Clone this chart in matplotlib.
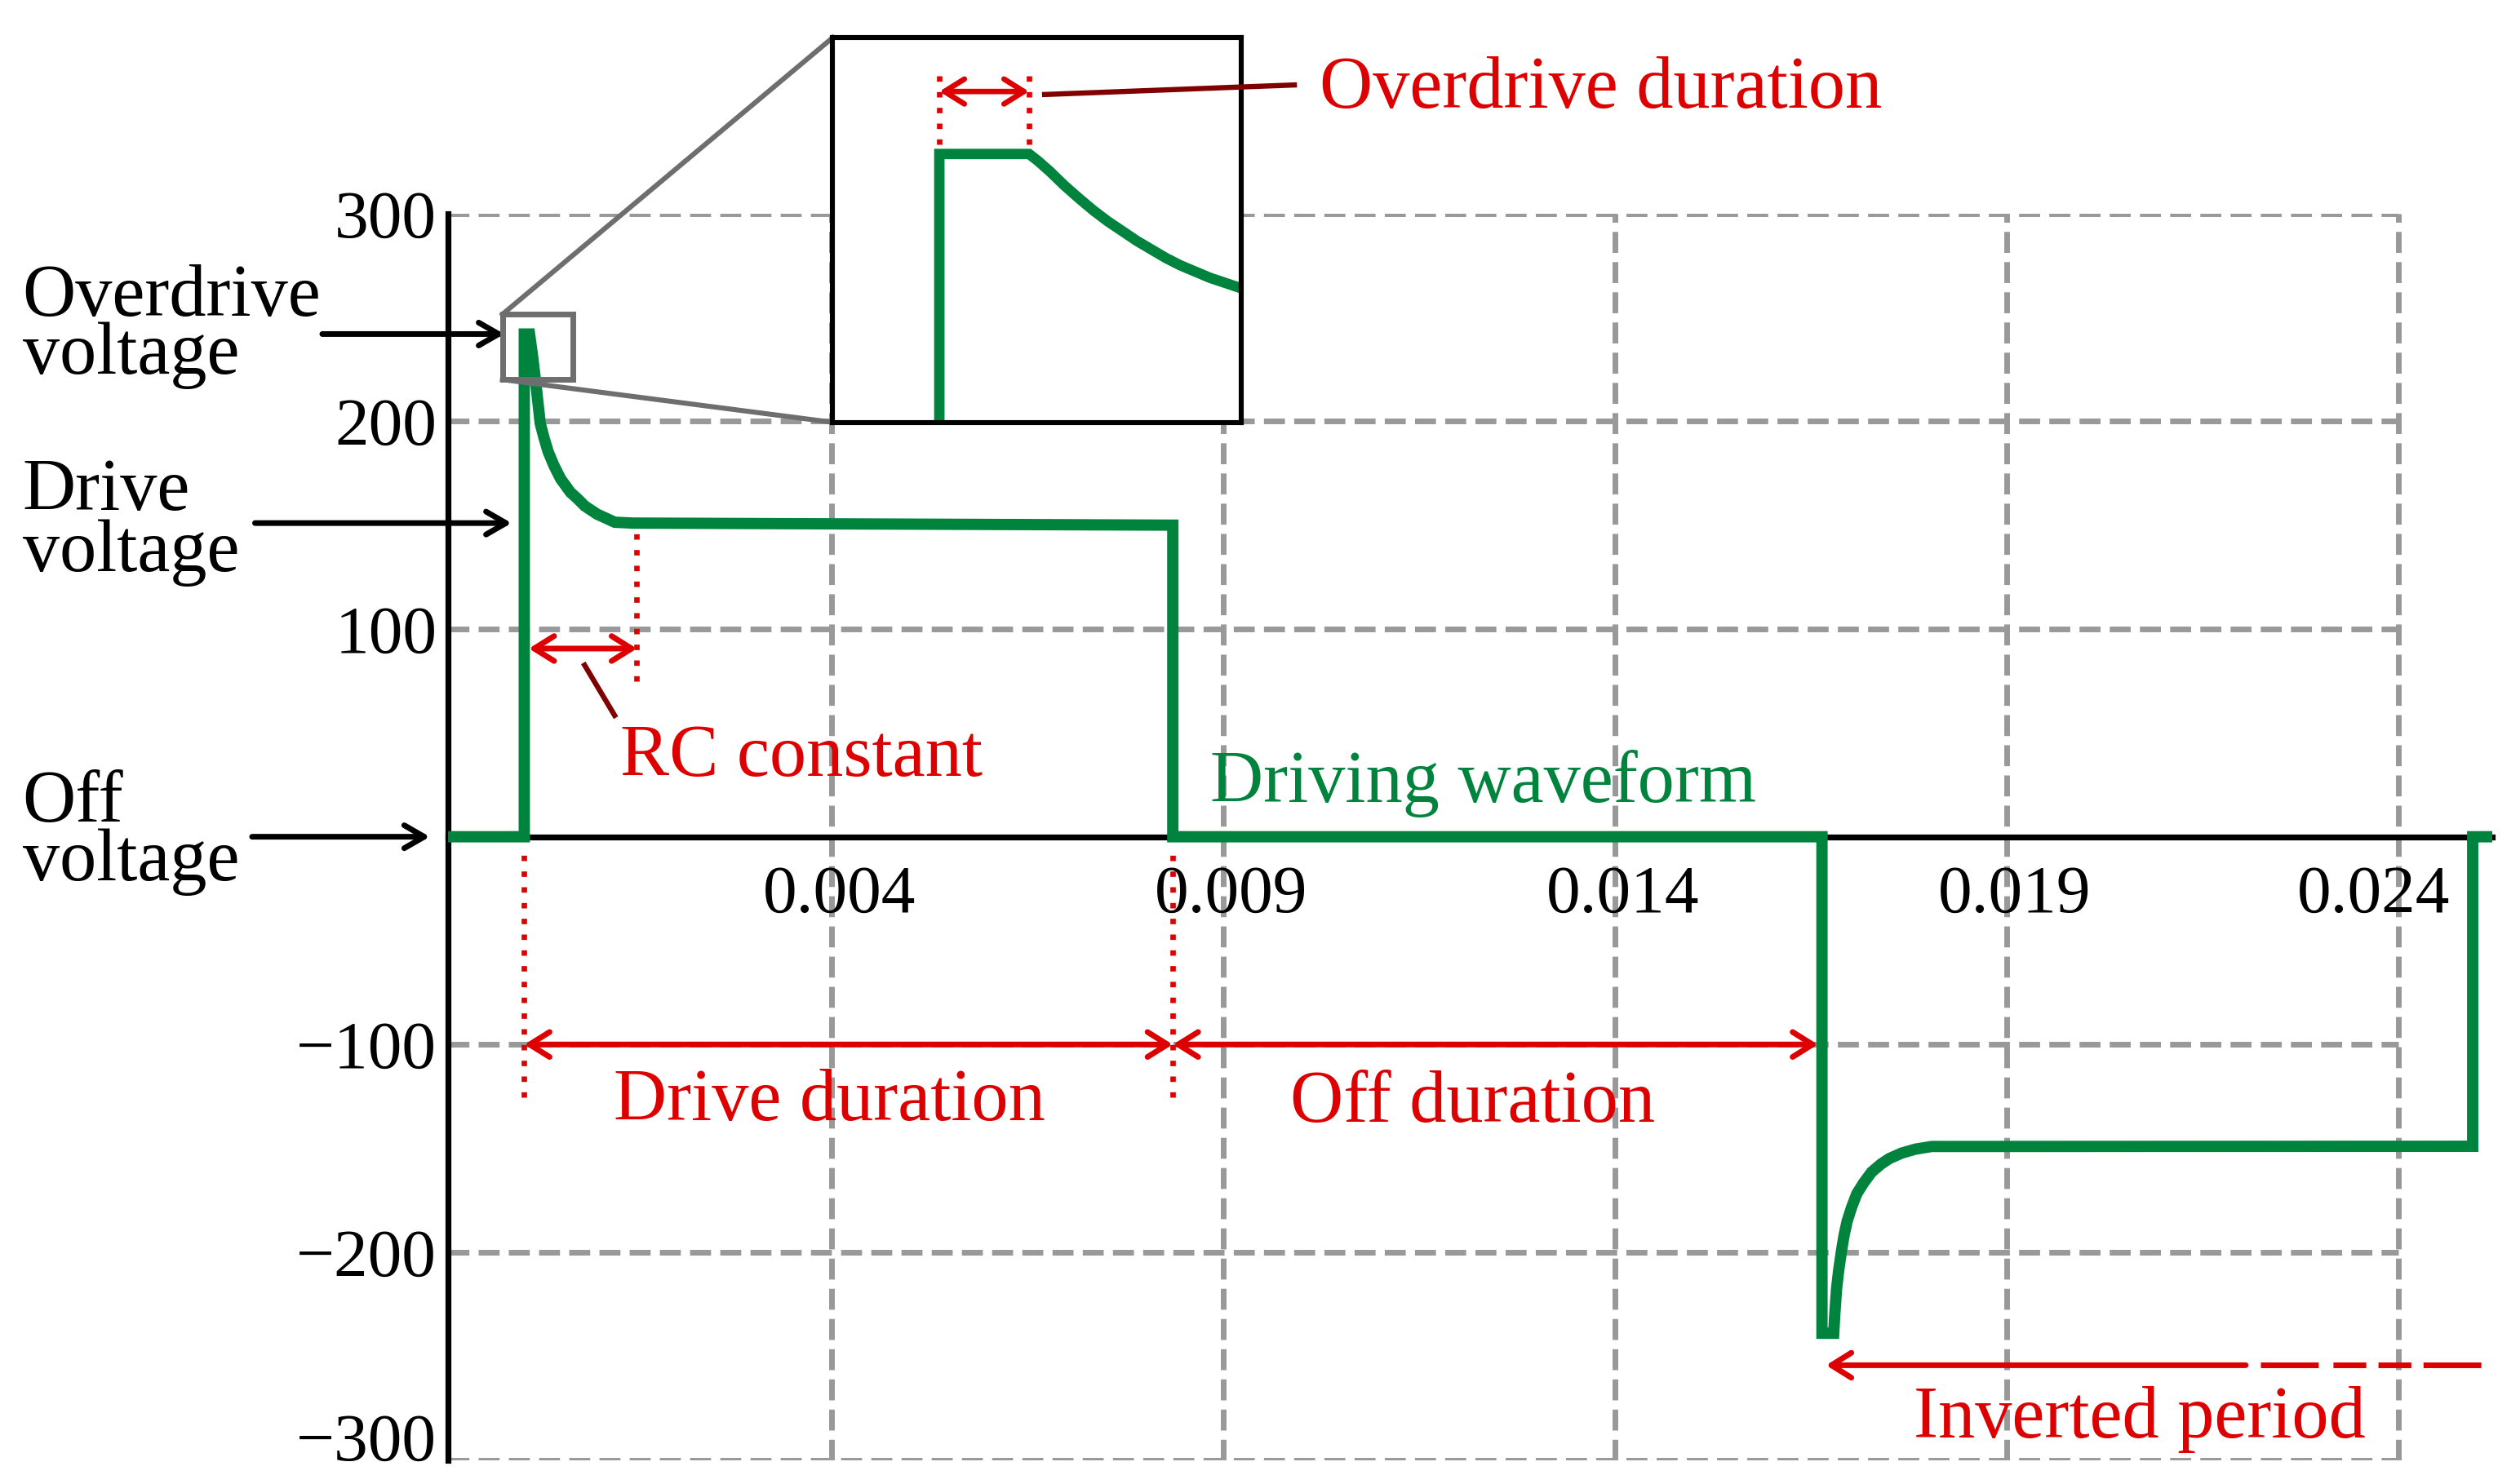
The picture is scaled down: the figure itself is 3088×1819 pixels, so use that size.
import matplotlib
matplotlib.use("Agg")
import matplotlib.pyplot as plt
from matplotlib import transforms
from matplotlib.patches import Rectangle

plt.rcParams['font.family'] = ['Liberation Serif', 'DejaVu Serif']

# driving waveform (time in s, voltage in V)
waveTime = [-0.00089, 0.000083, 0.000083, 0.00015, 0.00019, 0.000231, 0.000269,
            0.000286, 0.000335, 0.000387, 0.00046, 0.000547, 0.000672, 0.000752,
            0.000856, 0.001012, 0.001238, 0.001464, 0.00836, 0.00836,
            0.016645, 0.016645, 0.016795, 0.016807, 0.016831, 0.016859, 0.016894,
            0.016929, 0.016967, 0.017023, 0.017089, 0.017175, 0.017279, 0.017401,
            0.017505, 0.017661, 0.017835, 0.018044, 0.02495, 0.02495, 0.0252]
waveVolt = [0, 0, 242, 242, 231, 218, 205, 199, 192, 185.4, 178.8, 172.3, 165.8,
            163.1, 159.2, 155.3, 151.4, 151, 150, 0,
            0, -239, -239, -230.8, -217.7, -208.5, -199.4, -191.5, -185, -178.4,
            -171.9, -166.7, -161.4, -157.5, -154.9, -152.3, -150.4, -149.1, -149, 0, 0]

# magnified overdrive detail drawn in the inset
insetTime = [0.000038, 0.000038, 0.000235, 0.000254, 0.00028, 0.000312, 0.000344,
             0.000376, 0.000408, 0.00044, 0.000472, 0.000504, 0.000536, 0.000568,
             0.0006, 0.000632, 0.000664, 0.00072]
insetVolt = [219, 242, 242, 241.45, 240.6, 239.45, 238.4, 237.4, 236.5, 235.7, 234.9,
             234.2, 233.5, 232.9, 232.4, 231.9, 231.5, 230.8]

zoomTime = [-0.000196, 0.0007]
zoomVolt = [220.1, 251.5]

xTicks = [0.004, 0.009, 0.014, 0.019, 0.024]
xLabels = ['0.004', '0.009', '0.014', '0.019', '0.024']
yTicks = [-300, -200, -100, 100, 200, 300]
yLabels = ['\u2212300', '\u2212200', '\u2212100', '100', '200', '300']

overdriveLevel = 242
driveLevel = 151
offLevel = 0
driveStart = 0.000083
driveEnd = 0.00836
invertStart = 0.016645
rcEnd = 0.00152
overdriveStart = 0.000038
overdriveEnd = 0.000235

GREEN = '#00843D'
RED = '#DC0000'
DARKRED = '#800000'
GRID = '#999999'
BOXGRAY = '#6E6E6E'
DOTTED = (0, (1, 1.9))
FS = 32.5

fig = plt.figure(figsize=(15.44, 9.095), dpi=200)
ax = fig.add_axes([0.1778, 0.0162, 0.8112, 0.8399])
xMin, xMax = -0.00089, 0.0252
ax.set_xlim(xMin, xMax)
ax.set_ylim(-300, 300)

# dashed grid, stops at the last tick
ax.hlines(yTicks, xMin, xTicks[-1], colors=GRID, lw=2.5, linestyles=(0, (3.7, 1.63)), zorder=1)
ax.vlines(xTicks, -300, 300, colors=GRID, lw=2.5, linestyles=(0, (3.7, 1.63)), zorder=1)

ax.plot(waveTime, waveVolt, color=GREEN, lw=5.0, solid_joinstyle='miter',
        solid_capstyle='butt', zorder=4, clip_on=False)

for side in ['top', 'right']:
    ax.spines[side].set_visible(False)
ax.spines['bottom'].set_position(('data', 0))
for side in ['bottom', 'left']:
    ax.spines[side].set_linewidth(2.6)
    ax.spines[side].set_zorder(3)

ax.set_xticks([])
ax.set_yticks(yTicks, yLabels)
ax.tick_params(axis='y', length=0, labelsize=30, pad=5)
ax.get_yticklabels()[0].set_va('baseline')

for i, (t, lab) in enumerate(zip(xTicks, xLabels)):
    dx = -10.8 if i == len(xTicks) - 1 else 3.6
    tr = transforms.offset_copy(ax.transData, fig=fig, x=dx, y=-12.6, units='points')
    ax.text(t, 0, lab, transform=tr, ha='center', va='top', fontsize=30)

# zoom box, connectors and inset
ax.add_patch(Rectangle((zoomTime[0], zoomVolt[0]), zoomTime[1] - zoomTime[0],
                       zoomVolt[1] - zoomVolt[0], fill=False, ec=BOXGRAY, lw=2.5,
                       zorder=5, clip_on=False))
inLeft, inBottom, inWidth, inHeight = 0.00402, 199.5, 0.005208, 185.2
ax.plot([zoomTime[0], inLeft], [zoomVolt[1], inBottom + inHeight], color=BOXGRAY,
        lw=2.2, zorder=5, clip_on=False)
ax.plot([zoomTime[0], inLeft], [zoomVolt[0], inBottom], color=BOXGRAY,
        lw=2.2, zorder=5, clip_on=False)

axIn = ax.inset_axes([inLeft, inBottom, inWidth, inHeight], transform=ax.transData)
axIn.set_xlim(zoomTime)
axIn.set_ylim(zoomVolt)
axIn.set_xticks([])
axIn.set_yticks([])
for s in axIn.spines.values():
    s.set_linewidth(2.2)
axIn.plot(insetTime, insetVolt, color=GREEN, lw=4.6, solid_joinstyle='miter')
axIn.vlines([overdriveStart, overdriveEnd], 242.8, 249.2, colors=RED, lw=2.4, linestyles=DOTTED)
axIn.annotate('', xy=(overdriveStart, 247.1), xytext=(overdriveEnd, 247.1),
              arrowprops=dict(arrowstyle='<->,head_length=0.4,head_width=0.25', color=RED,
                              lw=2.4, shrinkA=0, shrinkB=0, mutation_scale=22))
ax.plot([0.006724, 0.009911], [357.3, 361.9], color=DARKRED, lw=2.3, zorder=6, clip_on=False)
ax.text(0.010229, 350.8, 'Overdrive duration', color=RED, fontsize=FS, va='baseline')

# RC constant
ax.vlines([rcEnd], 74.9, 149, colors=RED, lw=2.4, linestyles=DOTTED, zorder=5)
ax.annotate('', xy=(driveStart, 90.6), xytext=(rcEnd, 90.6),
            arrowprops=dict(arrowstyle='<->,head_length=0.4,head_width=0.25', color=RED,
                            lw=2.5, shrinkA=0, shrinkB=2, mutation_scale=22))
ax.plot([0.000853, 0.001236], [82.6, 58.4], color=DARKRED, lw=2.3, zorder=5)
ax.text(0.001307, 29.4, 'RC constant', color=RED, fontsize=FS, va='baseline')

ax.text(0.008841, 16.8, 'Driving waveform', color=GREEN, fontsize=FS, va='baseline')

# durations
ax.vlines([driveStart, driveEnd], -125.3, -7.7, colors=RED, lw=2.4, linestyles=DOTTED, zorder=5)
arrowBoth = dict(arrowstyle='<->,head_length=0.4,head_width=0.25', color=RED, lw=2.5,
                 shrinkA=0, shrinkB=0, mutation_scale=22)
ax.annotate('', xy=(driveStart, -100), xytext=(driveEnd, -100), arrowprops=arrowBoth)
ax.annotate('', xy=(driveEnd, -100), xytext=(invertStart, -100),
            arrowprops=dict(arrowBoth, shrinkA=1.8))
ax.text(0.001224, -136.6, 'Drive duration', color=RED, fontsize=FS, va='baseline')
ax.text(0.009859, -137.2, 'Off duration', color=RED, fontsize=FS, va='baseline')

ax.annotate('', xy=(invertStart, -254.4), xytext=(0.022053, -254.4),
            arrowprops=dict(arrowstyle='->,head_length=0.4,head_width=0.25', color=RED,
                            lw=2.5, shrinkA=0, shrinkB=1.8, mutation_scale=22),
            annotation_clip=False)
ax.plot([0.022243, 0.02516], [-254.4, -254.4], color=RED, lw=2.5,
        linestyle=(0, (10.2, 2.6, 5.8, 2.15, 5.8, 2.15)), clip_on=False, zorder=5)
ax.text(0.017818, -289, 'Inverted period', color=RED, fontsize=FS, va='baseline')

# level labels on the left
blackArrow = dict(arrowstyle='->,head_length=0.4,head_width=0.23', color='black', lw=2.5,
                  shrinkA=0, shrinkB=0, mutation_scale=22)
ax.annotate('', xy=(-0.000172, overdriveLevel), xytext=(-0.002495, overdriveLevel),
            arrowprops=blackArrow, annotation_clip=False)
ax.annotate('', xy=(-0.0000781, driveLevel), xytext=(-0.003354, driveLevel),
            arrowprops=blackArrow, annotation_clip=False)
ax.annotate('', xy=(-0.001122, offLevel), xytext=(-0.003391, offLevel),
            arrowprops=blackArrow, annotation_clip=False)

leftLabels = [('Overdrive', 0.7874), ('voltage', 0.7482), ('Drive', 0.6564),
              ('voltage', 0.6149), ('Off', 0.4466), ('voltage', 0.4068)]
for text, yPos in leftLabels:
    fig.text(0.00897, yPos, text, fontsize=FS, va='baseline')

fig.savefig('out.png', dpi=200, facecolor='white')
